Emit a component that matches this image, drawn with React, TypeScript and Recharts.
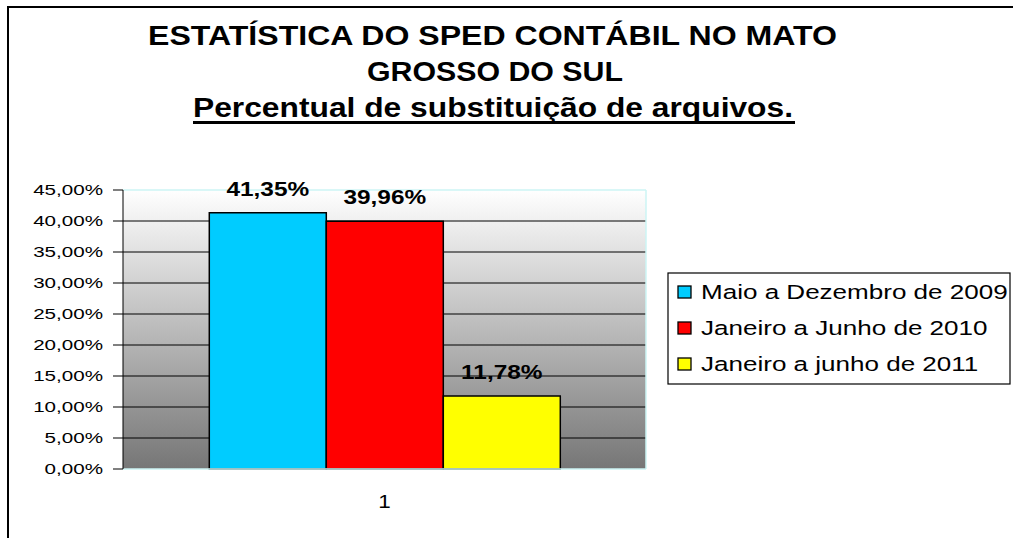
import React from 'react';
import { BarChart, Bar, XAxis, YAxis, CartesianGrid, LabelList } from 'recharts';

const categories = ['1'];
const seriesNames = ['Maio a Dezembro de 2009', 'Janeiro a Junho de 2010', 'Janeiro a junho de 2011'];
const seriesValues = [41.35, 39.96, 11.78];
const seriesColors = ['#00ccff', '#ff0000', '#ffff00'];
const yTicks = [0, 5, 10, 15, 20, 25, 30, 35, 40, 45];

const FONT = '"Liberation Sans", Arial, sans-serif';

const data = categories.map((c) => {
  const row: Record<string, number | string> = { name: c };
  seriesValues.forEach((v, i) => {
    row['s' + i] = v;
  });
  return row;
});

const fmt = (v: number) => v.toFixed(2).replace('.', ',') + '%';

// the source picture is stretched sideways, so text is widened a bit
function YTick(props: any) {
  const { x, y, payload } = props;
  return (
    <g transform={`translate(${x},${y})`}>
      <text transform="scale(1.33,1)" textAnchor="end" dy="0.35em" fontSize={15.5} fontFamily={FONT} fill="#000">
        {fmt(payload.value)}
      </text>
    </g>
  );
}

function XTick(props: any) {
  const { x, y, payload } = props;
  return (
    <g transform={`translate(${x},${y})`}>
      <text transform="scale(1.25,1)" textAnchor="middle" dy="0.71em" fontSize={18} fontFamily={FONT} fill="#000">
        {payload.value}
      </text>
    </g>
  );
}

function BarLabel(props: any) {
  const { x, y, width, value } = props;
  return (
    <g transform={`translate(${x + width / 2},${y - 17})`}>
      <text transform="scale(1.22,1)" textAnchor="middle" fontSize={20} fontWeight="bold" fontFamily={FONT} fill="#000">
        {fmt(value)}
      </text>
    </g>
  );
}

function LegendBox() {
  return (
    <svg width={345} height={114} style={{ position: 'absolute', left: 667, top: 272 }}>
      <rect x={1} y={1} width={342} height={111} fill="#fff" stroke="#000" strokeWidth={1.2} />
      {seriesNames.map((n, i) => (
        <g key={n} transform={`translate(0,${20 + i * 36})`}>
          <rect x={11} y={-6} width={13} height={12} fill={seriesColors[i]} stroke="#000" strokeWidth={1.3} />
          <g transform="translate(34,0)">
            <text transform="scale(1.27,1)" dy="0.35em" fontSize={20.5} fontFamily={FONT} fill="#000">
              {n}
            </text>
          </g>
        </g>
      ))}
    </svg>
  );
}

export default function App() {
  return (
    <div style={{ position: 'fixed', left: 0, top: 0, width: 1013, height: 538, background: '#fff', overflow: 'hidden' }}>
      <div
        style={{
          position: 'absolute',
          left: 7,
          top: 6,
          width: 1020,
          height: 560,
          borderLeft: '2px solid #000',
          borderTop: '2px solid #000',
        }}
      />
      <svg width={1013} height={140} style={{ position: 'absolute', left: 0, top: 0 }}>
        <g fontFamily={FONT} fontWeight="bold" fontSize={27} fill="#000">
          <text x={148} y={45} textLength={689} lengthAdjust="spacingAndGlyphs">
            ESTATÍSTICA DO SPED CONTÁBIL NO MATO
          </text>
          <text x={367} y={81} textLength={256} lengthAdjust="spacingAndGlyphs">
            GROSSO DO SUL
          </text>
          <text x={193} y={117} textLength={600} lengthAdjust="spacingAndGlyphs">
            Percentual de substituição de arquivos.
          </text>
        </g>
        <rect x={193} y={121} width={602} height={3} fill="#000" />
      </svg>
      <div style={{ position: 'absolute', left: 0, top: 0 }}>
        <BarChart
          width={1013}
          height={538}
          data={data}
          margin={{ top: 190, right: 367, bottom: 39, left: 0 }}
          barCategoryGap="16.5%"
          barGap={0}
        >
          <defs>
            <linearGradient id="plotBg" x1="0" y1="0" x2="0" y2="1">
              <stop offset="0%" stopColor="#ffffff" />
              <stop offset="100%" stopColor="#767676" />
            </linearGradient>
          </defs>
          <CartesianGrid
            vertical={false}
            stroke="#000"
            strokeWidth={1}
            fill="url(#plotBg)"
            fillOpacity={1}
            horizontalValues={yTicks.slice(1, -1)}
          />
          <XAxis
            dataKey="name"
            height={30}
            axisLine={{ stroke: '#ccf5f5', strokeWidth: 1.5 }}
            tickLine={false}
            tickSize={6}
            tickMargin={20}
            tick={<XTick />}
          />
          <YAxis
            width={123}
            domain={[0, 45]}
            ticks={yTicks}
            interval={0}
            axisLine={{ stroke: '#000' }}
            tickLine={{ stroke: '#000' }}
            tickSize={10}
            tickMargin={10}
            tick={<YTick />}
          />
          {seriesNames.map((n, i) => (
            <Bar
              key={n}
              dataKey={'s' + i}
              name={n}
              fill={seriesColors[i]}
              stroke="#000"
              strokeWidth={1.5}
              isAnimationActive={false}
            >
              <LabelList dataKey={'s' + i} content={<BarLabel />} />
            </Bar>
          ))}
          <line x1={123} y1={190} x2={646} y2={190} stroke="#ccf5f5" strokeWidth={1.5} />
          <line x1={646} y1={190} x2={646} y2={469} stroke="#ccf5f5" strokeWidth={1.5} />
        </BarChart>
      </div>
      <LegendBox />
    </div>
  );
}
